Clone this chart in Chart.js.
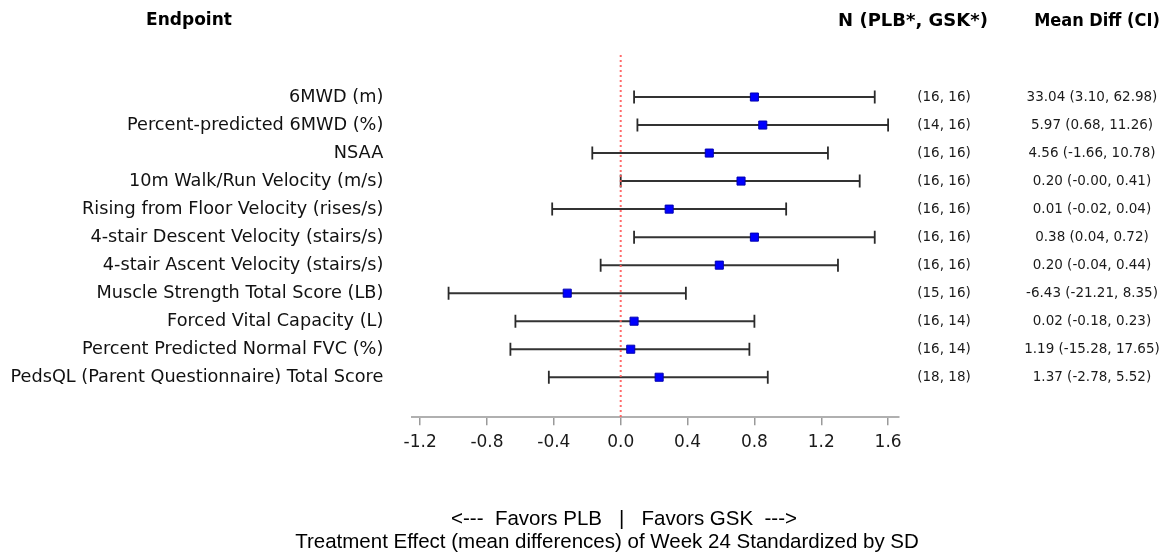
<!DOCTYPE html>
<html>
<head>
<meta charset="utf-8">
<script src="https://cdn.jsdelivr.net/npm/chart.js@4"></script>
<style>
  html, body { margin: 0; padding: 0; background: #ffffff; }
  #wrap { width: 1167px; height: 556px; position: relative; }
</style>
</head>
<body>
<div id="wrap"><canvas id="c" width="1167" height="556"></canvas></div>
<script>
// ---- data ----
const endpoints = [
  '6MWD (m)',
  'Percent-predicted 6MWD (%)',
  'NSAA',
  '10m Walk/Run Velocity (m/s)',
  'Rising from Floor Velocity (rises/s)',
  '4-stair Descent Velocity (stairs/s)',
  '4-stair Ascent Velocity (stairs/s)',
  'Muscle Strength Total Score (LB)',
  'Forced Vital Capacity (L)',
  'Percent Predicted Normal FVC (%)',
  'PedsQL (Parent Questionnaire) Total Score'
];
const effect = [0.80, 0.85, 0.53, 0.72, 0.29, 0.80, 0.59, -0.32, 0.08, 0.06, 0.23];
const lower  = [0.08, 0.10, -0.17, 0.00, -0.41, 0.08, -0.12, -1.03, -0.63, -0.66, -0.43];
const upper  = [1.52, 1.60, 1.24, 1.43, 0.99, 1.52, 1.30, 0.39, 0.80, 0.77, 0.88];
const nCounts = ['(16, 16)', '(14, 16)', '(16, 16)', '(16, 16)', '(16, 16)', '(16, 16)',
                 '(16, 16)', '(15, 16)', '(16, 14)', '(16, 14)', '(18, 18)'];
const meanDiffCI = ['33.04 (3.10, 62.98)', '5.97 (0.68, 11.26)', '4.56 (-1.66, 10.78)',
                    '0.20 (-0.00, 0.41)', '0.01 (-0.02, 0.04)', '0.38 (0.04, 0.72)',
                    '0.20 (-0.04, 0.44)', '-6.43 (-21.21, 8.35)', '0.02 (-0.18, 0.23)',
                    '1.19 (-15.28, 17.65)', '1.37 (-2.78, 5.52)'];
const xTicks = [-1.2, -0.8, -0.4, 0.0, 0.4, 0.8, 1.2, 1.6];
const refValue = 0;
const headers = ['Endpoint', 'N (PLB*, GSK*)', 'Mean Diff (CI)'];
const xTitleLines = ['<---  Favors PLB   |   Favors GSK  --->',
                     'Treatment Effect (mean differences) of Week 24 Standardized by SD'];

// ---- build datasets from arrays ----
const rowPos = endpoints.map((_, i) => i + 1);
const Y_MIN = -0.5, Y_MAX = 12.43;

const markerData = effect.map((v, i) => ({ x: v, y: rowPos[i] }));
const capData = [];
lower.forEach((v, i) => capData.push({ x: v, y: rowPos[i] }));
upper.forEach((v, i) => capData.push({ x: v, y: rowPos[i] }));
const ciData = [];
lower.forEach((v, i) => {
  ciData.push({ x: lower[i], y: rowPos[i] });
  ciData.push({ x: upper[i], y: rowPos[i] });
  ciData.push({ x: upper[i], y: null });
});
const refData = [{ x: refValue, y: Y_MIN }, { x: refValue, y: Y_MAX }];

const textPlugin = {
  id: 'forestText',
  afterDraw(chart) {
    const ctx = chart.ctx;
    const ys = chart.scales.y;
    ctx.save();
    ctx.fillStyle = '#000000';
    ctx.textBaseline = 'middle';
    // headers
    ctx.textAlign = 'center';
    ctx.font = 'bold 17px "DejaVu Sans"';
    ctx.fillText(headers[0], 189, 21);
    ctx.font = 'bold 18px "DejaVu Sans"';
    ctx.fillText(headers[1], 913, 21);
    ctx.font = 'bold 18px "DejaVu Sans Condensed", "DejaVu Sans"';
    ctx.fillText(headers[2], 1097, 21);
    // columns
    ctx.fillStyle = '#1a1a1a';
    ctx.font = '13.5px "DejaVu Sans"';
    rowPos.forEach((p, i) => {
      const y = ys.getPixelForValue(p);
      ctx.fillText(nCounts[i], 944, y);
      ctx.fillText(meanDiffCI[i], 1092, y);
    });
    // bottom titles
    ctx.fillStyle = '#000000';
    ctx.font = '20.5px "Liberation Sans", Arial';
    ctx.fillText(xTitleLines[0], 624, 519);
    ctx.fillText(xTitleLines[1], 607, 542);
    ctx.restore();
  }
};

new Chart(document.getElementById('c'), {
  type: 'scatter',
  data: {
    datasets: [
      {
        label: 'Effect',
        data: markerData,
        pointStyle: 'rect',
        pointRadius: 5.7,
        pointHoverRadius: 5.7,
        backgroundColor: '#0000ff',
        borderColor: '#0000b0',
        borderWidth: 1
      },
      {
        label: 'Reference',
        type: 'line',
        data: refData,
        borderColor: 'rgba(255, 90, 90, 0.9)',
        borderWidth: 2,
        borderDash: [2, 3],
        pointRadius: 0,
        fill: false
      },
      {
        label: 'CI caps',
        data: capData,
        pointStyle: 'line',
        rotation: 90,
        pointRadius: 6.5,
        pointHoverRadius: 6.5,
        borderColor: '#2a2a2a',
        backgroundColor: '#2a2a2a',
        borderWidth: 1.8
      },
      {
        label: 'CI',
        type: 'line',
        data: ciData,
        borderColor: '#333333',
        borderWidth: 2,
        pointRadius: 0,
        spanGaps: false,
        fill: false
      }
    ]
  },
  options: {
    responsive: false,
    animation: false,
    events: [],
    layout: { padding: { top: 55, right: 268.7, bottom: 0, left: 0 } },
    plugins: {
      legend: { display: false },
      tooltip: { enabled: false },
      title: { display: false }
    },
    scales: {
      x: {
        type: 'linear',
        min: -1.247,
        max: 1.661,
        afterBuildTicks: (scale) => { scale.ticks = xTicks.map(v => ({ value: v })); },
        afterFit: (scale) => { scale.height = 556 - 417.3; },
        ticks: {
          callback: (v) => Number(v).toFixed(1),
          color: '#1a1a1a',
          font: { family: '"DejaVu Sans"', size: 17 },
          padding: 7,
          maxRotation: 0,
          autoSkip: false
        },
        grid: {
          display: true,
          drawOnChartArea: false,
          drawTicks: true,
          tickLength: 8,
          color: '#9a9a9a',
          lineWidth: 1.5
        },
        border: { display: true, color: '#b0b0b0', width: 2 }
      },
      y: {
        type: 'linear',
        reverse: true,
        min: Y_MIN,
        max: Y_MAX,
        afterBuildTicks: (scale) => { scale.ticks = rowPos.map(v => ({ value: v })); },
        afterFit: (scale) => { scale.width = 412.3; },
        ticks: {
          callback: (v) => endpoints[Math.round(v) - 1] || '',
          color: '#111111',
          font: { family: '"DejaVu Sans"', size: 17.7 },
          padding: 29,
          autoSkip: false
        },
        grid: { display: false, drawTicks: false },
        border: { display: false }
      }
    }
  },
  plugins: [textPlugin]
});
</script>
</body>
</html>
